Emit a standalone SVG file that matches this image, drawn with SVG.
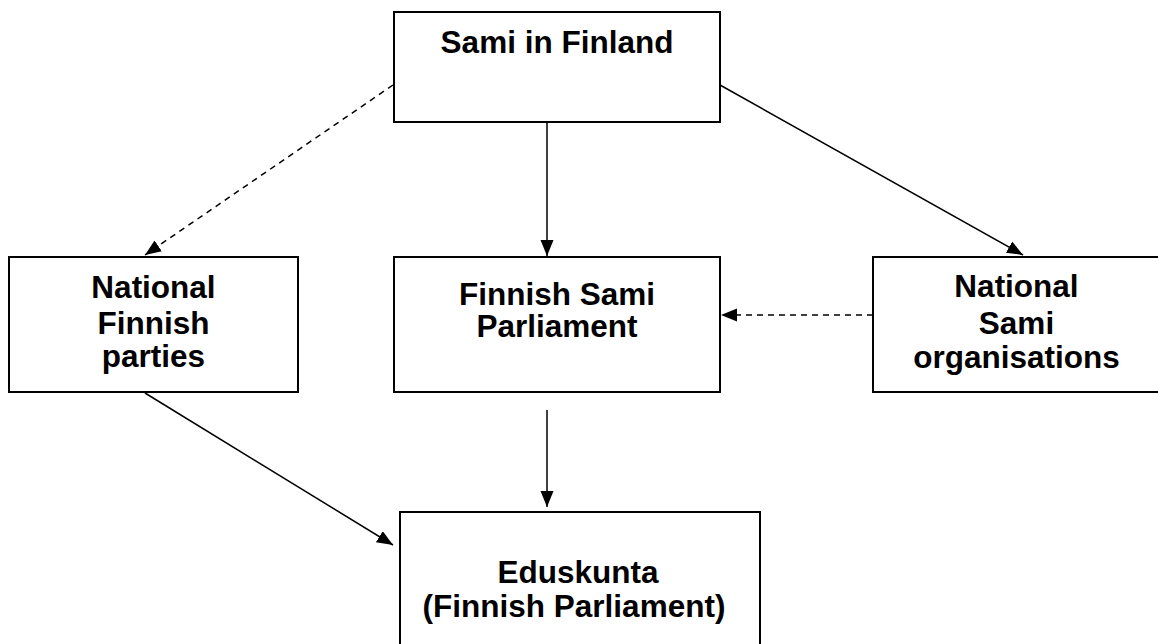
<svg xmlns="http://www.w3.org/2000/svg" width="1158" height="644" viewBox="0 0 1158 644">
  <style>
    .box { fill: #ffffff; stroke: #000000; stroke-width: 2; }
    .lbl { font-family: "Liberation Sans", Arial, sans-serif; font-weight: bold; font-size: 31.5px; fill: #000000; text-anchor: middle; }
    .conn { stroke: #000000; stroke-width: 1.5; fill: none; }
    .dash { stroke-dasharray: 6 5; }
  </style>
  <defs>
    <marker id="arrow" markerUnits="userSpaceOnUse" markerWidth="17" markerHeight="14" refX="16" refY="6.5" orient="auto">
      <path d="M0,0 L16,6.5 L0,13 z" fill="#000000"/>
    </marker>
  </defs>
  <rect x="0" y="0" width="1158" height="644" fill="#ffffff"/>

  <g id="connectors">
    <line class="conn" x1="547" y1="123" x2="547" y2="256" marker-end="url(#arrow)"/>
    <line class="conn dash" x1="393" y1="85" x2="145" y2="255" marker-end="url(#arrow)"/>
    <line class="conn" x1="720" y1="85" x2="1023" y2="255" marker-end="url(#arrow)"/>
    <line class="conn dash" x1="873" y1="315" x2="721" y2="315" marker-end="url(#arrow)"/>
    <line class="conn" x1="547" y1="410" x2="547" y2="507" marker-end="url(#arrow)"/>
    <line class="conn" x1="145" y1="393" x2="393" y2="545" marker-end="url(#arrow)"/>
  </g>

  <g id="node-sami-in-finland">
    <rect class="box" x="394" y="12" width="326" height="110"/>
    <text class="lbl" x="557" y="53">Sami in Finland</text>
  </g>

  <g id="node-national-finnish-parties">
    <rect class="box" x="9" y="257" width="289" height="135"/>
    <text class="lbl" x="153.5" y="298">National</text>
    <text class="lbl" x="153.5" y="334">Finnish</text>
    <text class="lbl" x="153.5" y="367">parties</text>
  </g>

  <g id="node-finnish-sami-parliament">
    <rect class="box" x="394" y="257" width="326" height="135"/>
    <text class="lbl" x="557" y="305">Finnish Sami</text>
    <text class="lbl" x="557" y="337">Parliament</text>
  </g>

  <g id="node-national-sami-organisations">
    <rect class="box" x="873" y="257" width="290" height="135"/>
    <text class="lbl" x="1016.5" y="297">National</text>
    <text class="lbl" x="1016.5" y="334">Sami</text>
    <text class="lbl" x="1016.5" y="368">organisations</text>
  </g>

  <g id="node-eduskunta">
    <rect class="box" x="400" y="512" width="360" height="140"/>
    <text class="lbl" x="578" y="583">Eduskunta</text>
    <text class="lbl" x="574" y="617">(Finnish Parliament)</text>
  </g>
</svg>
